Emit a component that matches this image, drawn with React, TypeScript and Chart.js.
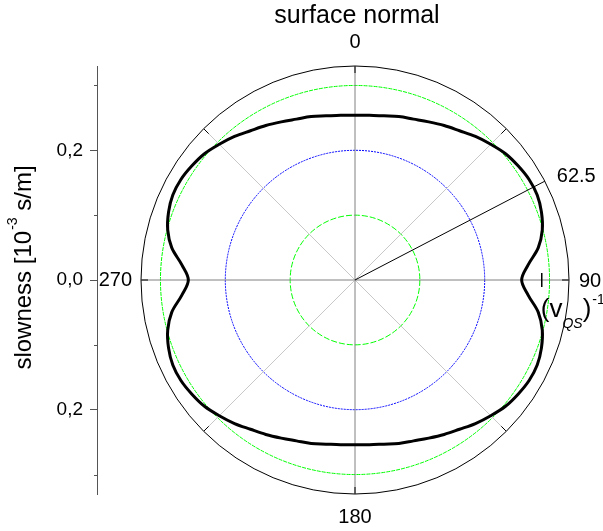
import React, { useEffect, useRef } from 'react';
import { Chart, registerables } from 'chart.js';

Chart.register(...registerables);

// Polar angle categories (degrees, clockwise from surface normal)
const ANGLES = [
  0, 5, 10, 15, 20, 25, 30, 35, 40, 45, 50, 55, 60, 65, 70, 75, 80, 85,
  90, 95, 100, 105, 110, 115, 120, 125, 130, 135, 140, 145, 150, 155, 160, 165, 170, 175,
  180, 185, 190, 195, 200, 205, 210, 215, 220, 225, 230, 235, 240, 245, 250, 255, 260, 265,
  270, 275, 280, 285, 290, 295, 300, 305, 310, 315, 320, 325, 330, 335, 340, 345, 350, 355,
];

// Slowness curve [10^-3 s/m] at each angle
const SLOWNESS = [
  0.254, 0.255, 0.257, 0.261, 0.264, 0.269, 0.275, 0.281, 0.289, 0.296, 0.303, 0.307, 0.310, 0.310, 0.306, 0.299, 0.287, 0.268,
  0.257, 0.268, 0.287, 0.299, 0.306, 0.310, 0.310, 0.307, 0.303, 0.296, 0.289, 0.281, 0.275, 0.269, 0.264, 0.261, 0.257, 0.255,
  0.254, 0.255, 0.257, 0.261, 0.264, 0.269, 0.275, 0.281, 0.289, 0.296, 0.303, 0.307, 0.310, 0.310, 0.306, 0.299, 0.287, 0.268,
  0.257, 0.268, 0.287, 0.299, 0.306, 0.310, 0.310, 0.307, 0.303, 0.296, 0.289, 0.281, 0.275, 0.269, 0.264, 0.261, 0.257, 0.255,
];

const R_MAX = 0.33;
const RING_VALUES = [0, 0.1, 0.2, 0.3, 0.33];
const AXIS_MAJOR = [-0.2, 0, 0.2];
const AXIS_MINOR = [-0.3, -0.1, 0.1, 0.3];
const CARDINAL_LABELS = ['0', '90', '180', '270'];
const OUTER_TICK_ANGLES = [0, 45, 90, 135, 180, 225, 270, 315];
const MARK_ANGLE = 62.5;
const VQS_INV = 0.288;

// styles
const RING_COLORS = ['#000000', '#00ff00', '#0000ff', '#00ff00', '#000000'];
const RING_DASH: number[][] = [[], [6, 2], [2, 1], [4, 1], []];
const FONT = '"Liberation Sans", Arial, Helvetica, sans-serif';

const overlay = {
  id: 'polarOverlay',
  afterDraw(chart: any) {
    const ctx: CanvasRenderingContext2D = chart.ctx;
    const r = chart.scales.r;
    const ys = chart.scales.y;
    const step = 360 / ANGLES.length;
    const R = r.getDistanceFromCenterForValue(R_MAX);
    ctx.save();

    // ticks on the outer circle
    ctx.strokeStyle = '#000';
    ctx.lineWidth = 1;
    OUTER_TICK_ANGLES.forEach((a) => {
      const p1 = r.getPointPosition(a / step, R - 7);
      const p2 = r.getPointPosition(a / step, R);
      ctx.beginPath();
      ctx.moveTo(p1.x, p1.y);
      ctx.lineTo(p2.x, p2.y);
      ctx.stroke();
    });

    // marked direction 62.5
    const m = r.getPointPositionForValue(MARK_ANGLE / step, R_MAX);
    ctx.beginPath();
    ctx.moveTo(r.xCenter, r.yCenter);
    ctx.lineTo(m.x, m.y);
    ctx.stroke();

    // (v_QS)^-1 marker
    const q = r.getPointPositionForValue(90 / step, VQS_INV);
    ctx.lineWidth = 1.5;
    ctx.beginPath();
    ctx.moveTo(q.x, q.y - 7);
    ctx.lineTo(q.x, q.y + 7);
    ctx.stroke();

    // minor ticks of the left axis
    ctx.strokeStyle = '#555';
    ctx.lineWidth = 1;
    AXIS_MINOR.forEach((v) => {
      const py = Math.round(ys.getPixelForValue(v)) + 0.5;
      ctx.beginPath();
      ctx.moveTo(ys.right - 3, py);
      ctx.lineTo(ys.right, py);
      ctx.stroke();
    });

    // texts
    ctx.fillStyle = '#000';
    ctx.textBaseline = 'alphabetic';
    const pTop = r.getPointPosition(0, R);
    const pRight = r.getPointPosition(90 / step, R);
    const pBottom = r.getPointPosition(180 / step, R);
    const pLeft = r.getPointPosition(270 / step, R);

    ctx.font = `25px ${FONT}`;
    ctx.textAlign = 'center';
    ctx.fillText('surface normal', pTop.x + 2, pTop.y - 43);

    ctx.font = `20px ${FONT}`;
    ctx.textAlign = 'center';
    ctx.fillText(CARDINAL_LABELS[0], pTop.x, pTop.y - 18);
    ctx.fillText(CARDINAL_LABELS[2], pBottom.x, pBottom.y + 29);
    ctx.textAlign = 'left';
    ctx.fillText(CARDINAL_LABELS[1], pRight.x + 10, pRight.y + 7);
    ctx.textAlign = 'right';
    ctx.fillText(CARDINAL_LABELS[3], pLeft.x - 9, pLeft.y + 6);

    ctx.textAlign = 'left';
    ctx.fillText(String(MARK_ANGLE), m.x + 12, m.y + 0.5);

    // (v_QS)^-1 label
    let x = q.x - 1;
    const base = q.y + 37;
    ctx.font = `26px ${FONT}`;
    ctx.fillText('(v', x, base);
    x += ctx.measureText('(v').width;
    ctx.font = `italic 14px ${FONT}`;
    ctx.fillText('QS', x, base + 11);
    x += ctx.measureText('QS').width;
    ctx.font = `26px ${FONT}`;
    ctx.fillText(')', x, base);
    x += ctx.measureText(')').width;
    ctx.font = `14px ${FONT}`;
    ctx.fillText('-1', x + 1, base - 13);

    // left axis title with superscript
    const t1 = 'slowness [10';
    const tSup = '-3';
    const t2 = ' s/m]';
    ctx.font = `24px ${FONT}`;
    const w1 = ctx.measureText(t1).width;
    const w2 = ctx.measureText(t2).width;
    ctx.font = `14px ${FONT}`;
    const wS = ctx.measureText(tSup).width;
    const total = w1 + wS + w2;
    const cy = (ys.top + ys.bottom) / 2 - 12;
    ctx.translate(ys.left + 22.5, cy);
    ctx.rotate(-Math.PI / 2);
    ctx.textAlign = 'left';
    let tx = -total / 2;
    ctx.font = `24px ${FONT}`;
    ctx.fillText(t1, tx, 0);
    tx += w1;
    ctx.font = `14px ${FONT}`;
    ctx.fillText(tSup, tx + 1, -14);
    tx += wS + 1;
    ctx.font = `24px ${FONT}`;
    ctx.fillText(t2, tx, 0);

    ctx.restore();
  },
};

export default function App() {
  const canvasRef = useRef<HTMLCanvasElement | null>(null);

  useEffect(() => {
    const canvas = canvasRef.current;
    if (!canvas) return;
    const chart = new Chart(canvas, {
      type: 'radar',
      data: {
        labels: ANGLES.map(String),
        datasets: [
          {
            data: SLOWNESS,
            borderColor: '#000',
            borderWidth: 3,
            pointRadius: 0,
            pointHoverRadius: 0,
            fill: false,
            tension: 0.35,
          },
        ],
      },
      options: {
        responsive: false,
        animation: false,
        devicePixelRatio: 1,
        events: [],
        layout: { padding: { left: 8, top: 66, right: 7, bottom: 37 } },
        plugins: {
          legend: { display: false },
          tooltip: { enabled: false },
          title: { display: false },
        },
        scales: {
          r: {
            type: 'radialLinear',
            min: 0,
            max: R_MAX,
            startAngle: 0,
            afterBuildTicks: (s: any) => {
              s.ticks = RING_VALUES.map((v) => ({ value: v }));
            },
            ticks: { display: false },
            pointLabels: { display: false },
            grid: {
              circular: true,
              color: (c: any) => RING_COLORS[c.index] || '#000',
              lineWidth: 1,
            },
            border: {
              dash: (c: any) => RING_DASH[c.index] || [],
            },
            angleLines: {
              color: (c: any) => (c.index % 18 === 0 ? '#808080' : '#c8c8c8'),
              lineWidth: (c: any) => (c.index % 9 === 0 ? 1 : 0),
            },
          },
          y: {
            type: 'linear',
            position: 'left',
            min: -R_MAX,
            max: R_MAX,
            afterBuildTicks: (s: any) => {
              s.ticks = AXIS_MAJOR.map((v) => ({ value: v }));
            },
            afterFit: (s: any) => {
              s.width = 89;
            },
            grid: {
              drawOnChartArea: false,
              drawTicks: true,
              tickLength: 7,
              color: '#555',
            },
            border: { display: true, color: '#555', width: 1 },
            ticks: {
              padding: 7,
              color: '#000',
              font: { family: FONT, size: 19 },
              callback: (v: any) => Math.abs(Number(v)).toFixed(1).replace('.', ','),
            },
            title: { display: false },
          },
        },
      } as any,
      plugins: [overlay],
    });
    return () => chart.destroy();
  }, []);

  return (
    <div
      style={{
        position: 'fixed',
        left: 0,
        top: 0,
        width: 603,
        height: 531,
        overflow: 'hidden',
        background: '#fff',
      }}
    >
      <canvas
        ref={canvasRef}
        width={620}
        height={531}
        style={{ display: 'block', width: 620, height: 531 }}
      />
    </div>
  );
}
